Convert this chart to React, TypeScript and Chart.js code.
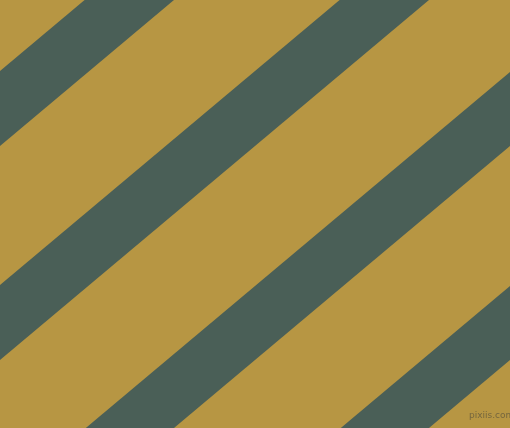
import { useEffect, useRef } from "react";
import { Chart, registerables } from "chart.js";

Chart.register(...registerables);

// x positions of the two ends of every stripe edge
const edgeX = [0, 510];
// y of each stripe's upper and lower edge, at the left (x=0) and right (x=510) sides
const upperLeft = [71, 285, 500, 714];
const upperRight = [-357, -143, 72, 286];
const lowerLeft = [146, 360, 574, 788];
const lowerRight = [-282, -68, 146, 360];

const stripeColor = "#4a5f57";
const groundColor = "#b79643";

export default function App() {
  const canvasRef = useRef<HTMLCanvasElement>(null);

  useEffect(() => {
    if (!canvasRef.current) return;
    document.body.style.margin = "0";

    const datasets: any[] = [];
    upperLeft.forEach((_, i) => {
      datasets.push({
        label: `stripe ${i + 1} top`,
        data: [
          { x: edgeX[0], y: upperLeft[i] },
          { x: edgeX[1], y: upperRight[i] },
        ],
        borderWidth: 0,
        borderColor: "transparent",
        pointRadius: 0,
        backgroundColor: stripeColor,
        fill: "+1",
      });
      datasets.push({
        label: `stripe ${i + 1} bottom`,
        data: [
          { x: edgeX[0], y: lowerLeft[i] },
          { x: edgeX[1], y: lowerRight[i] },
        ],
        borderWidth: 0,
        borderColor: "transparent",
        pointRadius: 0,
        fill: false,
      });
    });

    const chart = new Chart(canvasRef.current, {
      type: "line",
      data: { datasets },
      options: {
        responsive: false,
        animation: false,
        layout: { padding: 0 },
        plugins: {
          legend: { display: false },
          tooltip: { enabled: false },
          title: { display: false },
        },
        scales: {
          x: { type: "linear", min: 0, max: 510, display: false },
          y: { type: "linear", min: 0, max: 428, reverse: true, display: false },
        },
      },
    });

    return () => {
      chart.destroy();
    };
  }, []);

  return (
    <div style={{ position: "relative", width: 510, height: 428, background: groundColor }}>
      <canvas ref={canvasRef} width={510} height={428} style={{ display: "block" }} />
      <div
        style={{
          position: "absolute",
          left: 469,
          top: 410,
          fontFamily: "DejaVu Sans, sans-serif",
          fontSize: 9,
          color: "rgba(95,85,60,0.75)",
        }}
      >
        pixiis.com
      </div>
    </div>
  );
}
